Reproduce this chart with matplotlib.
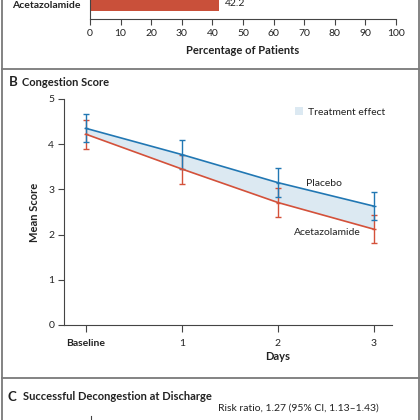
import numpy as np
import matplotlib
matplotlib.use("Agg")
import matplotlib.pyplot as plt
from matplotlib.patches import Patch
from matplotlib.lines import Line2D

plt.rcParams['font.family'] = ['Lato', 'DejaVu Sans']

# panel A (only the bottom of it shows)
groups = ["Acetazolamide", "Placebo"]
pct = [42.2, 30.5]
pct_ticks = list(range(0, 101, 10))

# panel B
days = [0, 1, 2, 3]
day_labels = ["Baseline", "1", "2", "3"]
placebo = [4.35, 3.77, 3.15, 2.63]
placebo_lo = [4.04, 3.45, 2.83, 2.32]
placebo_hi = [4.66, 4.10, 3.47, 2.94]
aceta = [4.22, 3.45, 2.71, 2.12]
aceta_lo = [3.90, 3.12, 2.40, 1.81]
aceta_hi = [4.53, 3.77, 3.03, 2.43]

BLUE = "#2177b3"
RED = "#d4513a"
FILL = "#dce9f2"
BAR = "#c9503a"
GRAY = "#7a7a7a"
TXT = "#222222"

W = H = 420


def box(l, t, r, b):
    return [l / W, 1 - b / H, (r - l) / W, (b - t) / H]


def fx(x):
    return x / W


def fy(y):
    return 1 - y / H


fig = plt.figure(figsize=(4.2, 4.2), dpi=100)

# frame lines
for y in (68.5, 377.5):
    fig.add_artist(Line2D([fx(1.5), fx(418.5)], [fy(y), fy(y)], color=GRAY, lw=1.3))
for x in (1.5, 418.5):
    fig.add_artist(Line2D([fx(x), fx(x)], [0, 1], color=GRAY, lw=1.3))

# ---- panel A
axa = fig.add_axes(box(90, -59, 396, 19))
ypos = np.arange(len(groups))
axa.barh(ypos, pct, height=0.35, color=BAR)
axa.text(pct[0] + 1.8, ypos[0], f"{pct[0]:.1f}", va="center", ha="left",
         fontsize=7.5, color=TXT)
axa.set_xlim(0, 100)
axa.set_ylim(-0.375, 1.575)
axa.set_yticks(ypos)
axa.set_yticklabels(groups, fontsize=7.5, fontweight="bold", color=TXT)
axa.tick_params(axis="y", length=0, pad=7)
axa.set_xticks(pct_ticks)
axa.tick_params(axis="x", direction="out", length=4, width=0.8, labelsize=7.5,
                colors="#444444", labelcolor=TXT, pad=3)
for s in ("top", "right"):
    axa.spines[s].set_visible(False)
for s in ("left", "bottom"):
    axa.spines[s].set_color("#444444")
    axa.spines[s].set_linewidth(0.8)
fig.text(fx(243), fy(51), "Percentage of Patients", ha="center", va="center",
         fontsize=8, fontweight="bold", color=TXT)

# ---- panel B
fig.text(fx(9), fy(82), "B", ha="left", va="center", fontsize=9.5,
         fontweight="bold", color=TXT)
fig.text(fx(22), fy(82), "Congestion Score", ha="left", va="center",
         fontsize=8, fontweight="bold", color=TXT)

axb = fig.add_axes(box(64, 99, 392, 325))
axb.set_xlim(-0.23, 3.19)
axb.set_ylim(0, 5)
axb.fill_between(days, aceta, placebo, color=FILL, lw=0)
axb.errorbar(days, aceta,
             yerr=[np.subtract(aceta, aceta_lo), np.subtract(aceta_hi, aceta)],
             color=RED, lw=1.2, elinewidth=1.0, capsize=2, capthick=1.0,
             marker="_", ms=3)
axb.errorbar(days, placebo,
             yerr=[np.subtract(placebo, placebo_lo), np.subtract(placebo_hi, placebo)],
             color=BLUE, lw=1.2, elinewidth=1.0, capsize=2, capthick=1.0,
             marker="_", ms=3)
axb.text(2.48, 3.14, "Placebo", ha="center", va="center", fontsize=7.5, color=TXT)
axb.text(2.52, 2.04, "Acetazolamide", ha="center", va="center", fontsize=7.5, color=TXT)
axb.legend(handles=[Patch(facecolor=FILL, edgecolor="none")], labels=["Treatment effect"],
           frameon=False, loc="center left", bbox_to_anchor=(fx(290), fy(112)),
           bbox_transform=fig.transFigure, fontsize=7.5, handlelength=0.75,
           handleheight=0.75, handletextpad=0.5, borderpad=0, labelcolor=TXT)

axb.set_xticks(days)
axb.set_xticklabels(day_labels)
axb.get_xticklabels()[0].set_fontweight("bold")
axb.set_yticks(range(0, 6))
axb.tick_params(direction="out", length=4, width=0.8, labelsize=7.5,
                colors="#444444", labelcolor=TXT, pad=3)
axb.tick_params(axis="x", length=5, pad=5)
for s in ("top", "right"):
    axb.spines[s].set_visible(False)
for s in ("left", "bottom"):
    axb.spines[s].set_color("#444444")
    axb.spines[s].set_linewidth(0.8)
fig.text(fx(35), fy(212), "Mean Score", rotation=90, ha="center", va="center",
         fontsize=8, fontweight="bold", color=TXT)
fig.text(fx(278), fy(356), "Days", ha="center", va="center",
         fontsize=8, fontweight="bold", color=TXT)

# ---- panel C (top edge only)
fig.text(fx(7), fy(397), "C", ha="left", va="center", fontsize=9.5,
         fontweight="bold", color=TXT)
fig.text(fx(23), fy(397), "Successful Decongestion at Discharge", ha="left",
         va="center", fontsize=8, fontweight="bold", color=TXT)
fig.text(fx(218), fy(408), "Risk ratio, 1.27 (95% CI, 1.13\u20131.43)", ha="left",
         va="center", fontsize=7.5, color=TXT)
fig.add_artist(Line2D([fx(91), fx(91)], [fy(416), fy(421)], color="#444444", lw=0.8))

fig.savefig("out.png", dpi=100)
